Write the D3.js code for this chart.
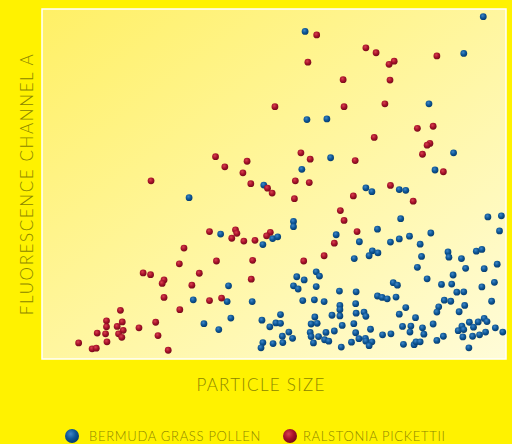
<!DOCTYPE html>
<html lang="en">
  <head>
    <meta charset="utf-8"/>
    <title>Fluorescence vs particle size</title>
    <script src="https://cdnjs.cloudflare.com/ajax/libs/d3/7.8.5/d3.min.js"></script>
    <style>
      body { margin: 0; background: #fff200; }
      .axisTitle { font-family: Lato, "Open Sans", sans-serif; font-weight: 300; fill: #8c8600; }
      .legendText { font-family: Lato, "Open Sans", sans-serif; font-weight: 300; fill: #8c8600; font-size: 13px; letter-spacing: 0.7px; }
    </style>
  </head>
  <body>
    <div id="chart-holder"></div>
    <script type="text/javascript">

      // series names
      var seriesNames = ["BERMUDA GRASS POLLEN", "RALSTONIA PICKETTII"];

      // bermuda grass pollen: particle size
      var pollenX = [95.1,56.7,90.9,83.4,57.1,61.4,62.2,88.7,56.0,84.7,47.8,69.8,71.1,77.0,78.4,31.7,38.5,40.2,32.6,39.9,
        45.3,40.7,34.9,38.1,54.2,54.2,63.4,72.3,77.3,83.8,96.1,99.0,98.6,49.7,50.8,47.6,68.4,75.1,77.0,79.2,
        81.5,71.2,72.4,70.5,67.3,81.8,87.5,87.7,90.4,93.6,94.8,98.1,80.9,91.3,95.3,59.1,59.8,54.9,56.5,83.0,
        88.6,97.5,54.2,55.2,59.1,64.1,67.7,75.7,76.6,86.1,88.3,94.8,89.4,90.9,56.2,58.7,60.8,72.3,73.3,74.4,
        76.3,86.7,88.1,96.9,64.2,64.2,67.6,85.5,91.1,78.4,67.7,69.4,69.8,64.2,62.5,77.0,85.1,89.9,80.5,51.4,
        47.4,58.8,50.4,51.4,49.1,58.0,59.3,64.7,67.2,77.7,79.5,84.3,92.1,94.0,95.3,95.9,90.5,93.0,82.0,70.8,
        63.0,53.2,57.8,61.2,67.6,79.3,89.7,90.9,97.7,99.3,82.3,73.4,75.2,51.8,54.0,58.0,59.6,68.3,69.7,90.7,
        92.8,94.3,95.6,86.5,85.1,60.9,61.8,58.5,51.9,49.8,47.6,47.2,66.7,69.8,71.1,70.5,64.5,77.9,80.2,80.6,
        81.5,92.0];
      // bermuda grass pollen: fluorescence channel a
      var pollenY = [97.8,93.6,87.3,72.9,68.4,68.6,57.5,58.9,54.2,54.0,49.7,48.9,47.8,48.4,48.2,46.1,35.7,20.9,16.9,16.4,
        16.4,11.7,10.1,8.4,39.3,37.8,35.5,37.1,40.1,36.0,40.6,40.9,36.6,34.4,34.9,32.7,33.5,33.4,34.3,35.1,
        32.8,30.9,30.3,29.5,28.7,29.3,30.6,29.1,28.7,30.8,31.3,27.1,26.2,25.9,25.8,24.9,23.7,23.5,22.6,22.9,
        24.0,21.9,20.9,20.0,20.7,19.4,19.2,21.8,21.1,21.3,21.4,20.6,19.1,19.2,16.7,16.9,16.4,18.0,17.6,17.2,
        17.7,16.8,16.5,16.5,15.3,14.1,15.8,14.9,15.3,14.7,13.1,13.4,12.2,12.3,12.5,12.8,13.4,13.5,11.8,12.7,
        11.1,12.0,10.3,10.2,9.2,10.0,10.2,9.6,10.1,9.3,9.4,10.0,10.5,10.6,11.6,10.7,9.4,9.1,8.9,8.5,
        8.0,7.7,7.6,7.6,7.5,7.7,8.1,8.4,8.9,7.7,7.1,6.9,7.2,6.5,5.9,6.4,6.4,5.8,5.9,6.3,
        6.5,6.9,7.7,6.5,5.3,5.5,5.1,4.6,4.7,4.4,4.7,3.2,4.8,5.1,4.9,3.8,3.4,4.2,4.1,4.9,
        4.9,3.2];

      // ralstonia pickettii: particle size
      var ralstoniaX = [59.2,69.8,72.0,57.3,75.9,74.8,85.1,64.9,75.0,50.2,65.1,73.9,80.9,84.3,71.6,83.6,83.0,55.8,57.8,82.0,
        67.5,86.5,54.6,57.6,48.6,49.6,75.1,54.4,67.1,80.0,37.4,39.4,44.2,43.3,45.0,23.5,36.1,41.7,42.0,40.9,
        43.5,45.9,30.6,29.6,37.6,45.4,21.8,23.4,33.9,26.3,25.9,32.3,45.1,26.3,36.1,38.7,29.7,16.9,13.9,17.3,
        13.9,16.2,24.5,20.9,17.5,11.9,13.7,16.5,17.2,25.0,14.0,7.9,10.8,11.7,27.2,64.3,65.1,67.9,63.0,60.8,
        56.4,49.2,48.4];
      // ralstonia pickettii: fluorescence channel a
      var ralstoniaY = [92.6,88.9,87.5,84.8,85.1,84.2,86.6,79.8,79.7,72.1,72.1,72.9,65.9,66.5,63.3,61.6,61.1,58.9,57.1,58.5,
        56.7,53.5,50.9,50.4,48.8,47.4,49.6,45.8,46.6,45.1,57.8,54.9,56.5,53.2,50.1,50.9,36.4,36.9,35.9,34.5,
        33.7,33.9,31.7,27.2,28.0,28.2,24.6,24.1,24.5,22.6,21.6,21.1,22.8,17.6,16.7,17.4,14.1,13.9,10.9,10.6,
        9.2,9.3,10.5,8.9,8.2,7.4,7.2,7.2,6.2,6.7,4.9,4.6,2.9,3.1,2.5,42.4,39.6,36.4,33.1,29.5,
        28.0,36.2,35.2];

      var w = 512;
      var h = 444;
      var margin = {top: 9, right: 6, bottom: 85, left: 42};
      var plotW = w - margin.left - margin.right;
      var plotH = h - margin.top - margin.bottom;

      var x = d3.scaleLinear().domain([0, 100]).range([0, plotW]);
      var y = d3.scaleLinear().domain([0, 100]).range([plotH, 0]);

      var svg = d3.select("#chart-holder")
        .append("svg")
        .attr("width", w)
        .attr("height", h)
      ;

      var defs = svg.append("defs");

      // plot background fades from yellow to cream
      var bg = defs.append("linearGradient")
        .attr("id", "plotBg")
        .attr("x1", 0).attr("y1", 0)
        .attr("x2", 1).attr("y2", 1)
      ;
      bg.append("stop").attr("offset", "0%").attr("stop-color", "#fff066");
      bg.append("stop").attr("offset", "100%").attr("stop-color", "#fffcd8");

      // shaded ball look for the markers
      function ball(id, light, mid, dark) {
        var g = defs.append("radialGradient")
          .attr("id", id)
          .attr("cx", "40%").attr("cy", "35%").attr("r", "65%")
        ;
        g.append("stop").attr("offset", "0%").attr("stop-color", light);
        g.append("stop").attr("offset", "55%").attr("stop-color", mid);
        g.append("stop").attr("offset", "100%").attr("stop-color", dark);
      }
      ball("ballBlue", "#3f86c8", "#0d5796", "#073c70");
      ball("ballRed", "#d8404e", "#a8122a", "#760a1a");
      var fills = ["url(#ballBlue)", "url(#ballRed)"];

      var plot = svg.append("g")
        .attr("transform", "translate(" + margin.left + "," + margin.top + ")")
      ;

      plot.append("rect")
        .attr("width", plotW)
        .attr("height", plotH)
        .attr("fill", "url(#plotBg)")
        .attr("stroke", "#ffffff")
        .attr("stroke-width", 1.5)
      ;

      // draw the two series
      var series = [
        {x: pollenX, y: pollenY},
        {x: ralstoniaX, y: ralstoniaY}
      ];
      series.forEach(function(s, k) {
        plot.append("g")
          .selectAll("circle")
          .data(d3.range(s.x.length))
          .enter()
          .append("circle")
          .attr("cx", function(i) { return x(s.x[i]); })
          .attr("cy", function(i) { return y(s.y[i]); })
          .attr("r", 3.4)
          .attr("fill", fills[k])
        ;
      });

      // axis titles
      svg.append("text")
        .attr("class", "axisTitle")
        .attr("x", 261)
        .attr("y", 391)
        .attr("text-anchor", "middle")
        .style("font-size", "17px")
        .style("letter-spacing", "1.3px")
        .text("PARTICLE SIZE")
      ;
      svg.append("text")
        .attr("class", "axisTitle")
        .attr("transform", "translate(33," + (margin.top + plotH / 2) + ")rotate(-90)")
        .attr("text-anchor", "middle")
        .style("font-size", "17px")
        .style("letter-spacing", "1.6px")
        .text("FLUORESCENCE CHANNEL A")
      ;

      // legend
      var legendX = [72, 290];
      var legendTextX = [89, 303];
      seriesNames.forEach(function(name, k) {
        svg.append("circle")
          .attr("cx", legendX[k])
          .attr("cy", 436)
          .attr("r", 7)
          .attr("fill", fills[k])
        ;
        svg.append("text")
          .attr("class", "legendText")
          .attr("x", legendTextX[k])
          .attr("y", 441)
          .text(name)
        ;
      });
    </script>
  </body>
</html>
